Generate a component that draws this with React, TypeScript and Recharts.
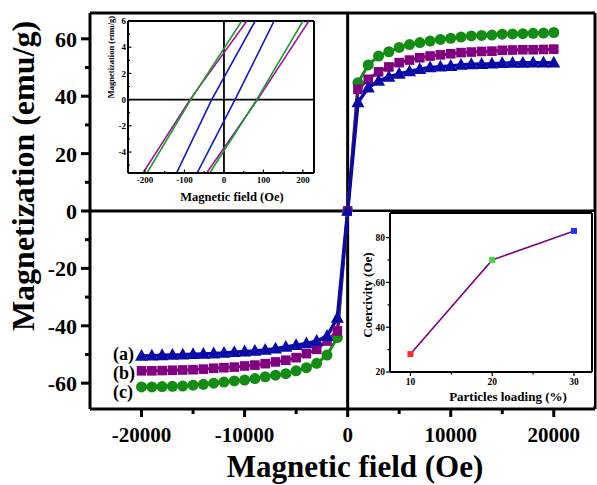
import React from 'react';
import { LineChart, Line, XAxis, YAxis, ReferenceLine } from 'recharts';

const FONT = "'Liberation Serif', 'Times New Roman', serif";
const GREEN = '#138c13';
const PURPLE = '#800080';
const BLUE = '#0a0aa8';

// main M-H curves, field in Oe
const fieldOe = [
  -20000, -19000, -18000, -17000, -16000, -15000, -14000, -13000, -12000, -11000,
  -10000, -9000, -8000, -7000, -6000, -5000, -4000, -3000, -2000, -1000,
  0,
  1000, 2000, 3000, 4000, 5000, 6000, 7000, 8000, 9000, 10000,
  11000, 12000, 13000, 14000, 15000, 16000, 17000, 18000, 19000, 20000,
];
// (c) green circles
const magC = [
  -61.3, -61.3, -61.2, -61.1, -61.0, -60.7, -60.4, -60.0, -59.6, -59.2,
  -58.9, -58.4, -57.8, -57.2, -56.7, -55.7, -54.6, -53.1, -50.2, -44.1,
  0,
  44.7, 50.9, 54.0, 55.5, 57.0, 58.0, 58.7, 59.2, 59.8, 60.2,
  60.6, 61.0, 61.2, 61.3, 61.6, 61.7, 61.8, 61.9, 62.0, 62.2,
];
// (b) purple squares
const magB = [
  -55.7, -55.7, -55.6, -55.5, -55.4, -55.3, -55.1, -54.8, -54.6, -54.4,
  -54.0, -53.7, -53.2, -52.6, -52.0, -51.1, -49.7, -48.2, -45.3, -41.8,
  0,
  42.4, 45.9, 48.5, 50.2, 51.7, 52.6, 53.4, 54.0, 54.4, 54.8,
  55.2, 55.4, 55.6, 55.7, 56.0, 56.1, 56.2, 56.2, 56.3, 56.4,
];
// (a) blue triangles
const magA = [
  -50.5, -50.4, -50.3, -50.2, -50.1, -49.9, -49.8, -49.7, -49.5, -49.2,
  -49.0, -48.8, -48.4, -48.0, -47.4, -46.8, -46.2, -45.3, -43.6, -37.3,
  0,
  37.8, 43.0, 45.3, 46.7, 47.8, 48.6, 49.4, 50.0, 50.3, 50.5,
  50.9, 51.1, 51.2, 51.3, 51.5, 51.6, 51.6, 51.7, 51.7, 51.7,
];
const mainXTicks = [-20000, -15000, -10000, -5000, 0, 5000, 10000, 15000, 20000];
const mainYTicks = [-60, -50, -40, -30, -20, -10, 0, 10, 20, 30, 40, 50, 60];

// zoomed loop inset: each branch read at bottom edge, M=0 crossing, top edge
const loopM = [-5.6, 0, 6];
const greenDownH = [-195, -84, 45];
const greenUpH = [-36, 83, 200];
const purpleDownH = [-205, -86, 58];
const purpleUpH = [-44, 85, 215];
const blueDownH = [-120, -31, 79];
const blueUpH = [-68, 28, 127];
const loopXTicks = [-200, -150, -100, -50, 0, 50, 100, 150, 200];
const loopYTicks = [-5, -4, -3, -2, -1, 0, 1, 2, 3, 4, 5, 6];

// coercivity inset
const loading = [10, 20, 30];
const coercivity = [28, 70, 83];
const loadingColors = ['#ff2a2a', '#3ddc3d', '#2233ff'];
const coerXTicks = [10, 15, 20, 25, 30];
const coerYTicks = [20, 30, 40, 50, 60, 70, 80];

const mainRows = fieldOe.map((h, i) => ({ h, a: magA[i], b: magB[i], c: magC[i] }));
const branch = (hs: number[]) => hs.map((h, i) => ({ h, m: loopM[i] }));
const coerRows = loading.map((x, i) => ({ x, y: coercivity[i], color: loadingColors[i] }));

const Circle = (p: any) => <circle key={p.index} cx={p.cx} cy={p.cy} r={5.5} fill={GREEN} />;
const Square = (p: any) => (
  <rect key={p.index} x={p.cx - 4.8} y={p.cy - 4.8} width={9.6} height={9.6} fill={PURPLE} />
);
const Triangle = (p: any) => (
  <polygon
    key={p.index}
    points={`${p.cx},${p.cy - 7} ${p.cx + 6.5},${p.cy + 4.8} ${p.cx - 6.5},${p.cy + 4.8}`}
    fill={BLUE}
  />
);
const SmallSquare = (p: any) => (
  <rect key={p.index} x={p.cx - 3} y={p.cy - 3} width={6} height={6} fill={p.payload.color} />
);

const MainXTick = ({ x, y, payload }: any) => {
  const major = payload.value % 10000 === 0;
  return (
    <g>
      <line x1={x} x2={x} y1={y} y2={y + (major ? 8 : 5)} stroke="#000" strokeWidth={3} />
      {major && (
        <text x={x} y={y + 33} textAnchor="middle" fontFamily={FONT} fontWeight="bold" fontSize={21} fill="#000">
          {payload.value}
        </text>
      )}
    </g>
  );
};

const MainYTick = ({ x, y, payload }: any) => {
  const major = payload.value % 20 === 0;
  return (
    <g>
      <line x1={x} x2={x - (major ? 9 : 5)} y1={y} y2={y} stroke="#000" strokeWidth={3} />
      {major && (
        <text x={x - 13} y={y} dy="0.36em" textAnchor="end" fontFamily={FONT} fontWeight="bold" fontSize={22} fill="#000">
          {payload.value}
        </text>
      )}
    </g>
  );
};

const LoopXTick = ({ x, y, payload }: any) => {
  const major = payload.value % 100 === 0;
  return (
    <g>
      <line x1={x} x2={x} y1={y} y2={y - (major ? 3.5 : 2)} stroke="#000" strokeWidth={1.2} />
      {major && (
        <text x={x} y={y + 10} textAnchor="middle" fontFamily={FONT} fontWeight="bold" fontSize={9} fill="#000">
          {payload.value}
        </text>
      )}
    </g>
  );
};

const LoopYTick = ({ x, y, payload }: any) => {
  const major = payload.value % 2 === 0;
  return (
    <g>
      <line x1={x} x2={x + (major ? 3.5 : 2)} y1={y} y2={y} stroke="#000" strokeWidth={1.2} />
      {major && (
        <text x={x - 2} y={y} dy="0.35em" textAnchor="end" fontFamily={FONT} fontWeight="bold" fontSize={9} fill="#000">
          {payload.value}
        </text>
      )}
    </g>
  );
};

const CoerXTick = ({ x, y, payload }: any) => {
  const major = payload.value % 10 === 0;
  return (
    <g>
      <line x1={x} x2={x} y1={y} y2={y + (major ? 4 : 2.5)} stroke="#000" strokeWidth={1.2} />
      {major && (
        <text x={x} y={y + 13} textAnchor="middle" fontFamily={FONT} fontWeight="bold" fontSize={9.5} fill="#000">
          {payload.value}
        </text>
      )}
    </g>
  );
};

const CoerYTick = ({ x, y, payload }: any) => {
  const major = payload.value % 20 === 0;
  return (
    <g>
      <line x1={x} x2={x - (major ? 4 : 2.5)} y1={y} y2={y} stroke="#000" strokeWidth={1.2} />
      {major && (
        <text x={x - 5} y={y} dy="0.35em" textAnchor="end" fontFamily={FONT} fontWeight="bold" fontSize={9.5} fill="#000">
          {payload.value}
        </text>
      )}
    </g>
  );
};

const txt = (extra: React.CSSProperties): React.CSSProperties => ({
  position: 'absolute',
  fontFamily: FONT,
  fontWeight: 'bold',
  color: '#000',
  whiteSpace: 'nowrap',
  lineHeight: 1,
  ...extra,
});

const App = () => {
  return (
    <div style={{ position: 'absolute', left: 0, top: 0, width: 597, height: 485, background: '#fff', overflow: 'hidden' }}>
      <div style={{ position: 'absolute', left: 0, top: 0 }}>
        <LineChart width={597} height={485} data={mainRows} margin={{ top: 13, right: 1, bottom: 75, left: 89 }}>
          <XAxis
            dataKey="h"
            type="number"
            domain={[-25000, 24000]}
            ticks={mainXTicks}
            interval={0}
            height={1}
            tickSize={0}
            tickMargin={0}
            tickLine={false}
            tick={<MainXTick />}
            axisLine={{ stroke: '#000', strokeWidth: 3 }}
            allowDataOverflow
          />
          <YAxis
            type="number"
            domain={[-69, 69]}
            ticks={mainYTicks}
            interval={0}
            width={1}
            tickSize={0}
            tickMargin={0}
            tickLine={false}
            tick={<MainYTick />}
            axisLine={{ stroke: '#000', strokeWidth: 3 }}
            allowDataOverflow
          />
          <YAxis
            yAxisId="frame"
            orientation="right"
            type="number"
            domain={[-69, 69]}
            width={1}
            tick={false}
            tickLine={false}
            axisLine={{ stroke: '#000', strokeWidth: 3 }}
          />
          <ReferenceLine y={69} stroke="#000" strokeWidth={3} ifOverflow="visible" />
          <ReferenceLine y={0} stroke="#000" strokeWidth={3} />
          <ReferenceLine x={0} stroke="#000" strokeWidth={3} />
          <Line dataKey="c" stroke={GREEN} strokeWidth={3} dot={Circle} activeDot={false} isAnimationActive={false} />
          <Line dataKey="b" stroke={PURPLE} strokeWidth={3} dot={Square} activeDot={false} isAnimationActive={false} />
          <Line dataKey="a" stroke={BLUE} strokeWidth={3.5} dot={Triangle} activeDot={false} isAnimationActive={false} />
        </LineChart>
      </div>

      <div style={txt({ left: 113, top: 345, fontSize: 18 })}>(a)</div>
      <div style={txt({ left: 113, top: 364, fontSize: 18 })}>(b)</div>
      <div style={txt({ left: 113, top: 383, fontSize: 18 })}>(c)</div>

      <div style={txt({ left: 23, top: 176, fontSize: 32, transform: 'translate(-50%, -50%) rotate(-90deg)' })}>
        Magnetization (emu/g)
      </div>
      <div style={txt({ left: 355, top: 466, fontSize: 31, transform: 'translate(-50%, -50%)' })}>
        Magnetic field (Oe)
      </div>

      {/* low-field loop inset */}
      <div style={{ position: 'absolute', left: 100, top: 16, width: 220, height: 190, background: '#fff' }}>
        <LineChart width={220} height={190} margin={{ top: 5, right: 6, bottom: 32, left: 27 }}>
          <XAxis
            dataKey="h"
            type="number"
            domain={[-243, 228]}
            ticks={loopXTicks}
            interval={0}
            height={1}
            tickSize={0}
            tickMargin={0}
            tickLine={false}
            tick={<LoopXTick />}
            axisLine={{ stroke: '#000', strokeWidth: 2 }}
            allowDataOverflow
          />
          <YAxis
            type="number"
            domain={[-5.6, 6]}
            ticks={loopYTicks}
            interval={0}
            width={1}
            tickSize={0}
            tickMargin={0}
            tickLine={false}
            tick={<LoopYTick />}
            axisLine={{ stroke: '#000', strokeWidth: 2 }}
            allowDataOverflow
          />
          <ReferenceLine y={6} stroke="#000" strokeWidth={2} ifOverflow="visible" />
          <ReferenceLine x={228} stroke="#000" strokeWidth={2} ifOverflow="visible" />
          <ReferenceLine y={0} stroke="#000" strokeWidth={1.8} />
          <ReferenceLine x={0} stroke="#000" strokeWidth={1.8} />
          <Line data={branch(purpleDownH)} dataKey="m" stroke="#a0159a" strokeWidth={1.6} dot={false} activeDot={false} isAnimationActive={false} />
          <Line data={branch(purpleUpH)} dataKey="m" stroke="#a0159a" strokeWidth={1.6} dot={false} activeDot={false} isAnimationActive={false} />
          <Line data={branch(greenDownH)} dataKey="m" stroke="#1c9a2a" strokeWidth={1.6} dot={false} activeDot={false} isAnimationActive={false} />
          <Line data={branch(greenUpH)} dataKey="m" stroke="#1c9a2a" strokeWidth={1.6} dot={false} activeDot={false} isAnimationActive={false} />
          <Line data={branch(blueDownH)} dataKey="m" stroke="#1515c8" strokeWidth={1.6} dot={false} activeDot={false} isAnimationActive={false} />
          <Line data={branch(blueUpH)} dataKey="m" stroke="#1515c8" strokeWidth={1.6} dot={false} activeDot={false} isAnimationActive={false} />
        </LineChart>
      </div>
      <div style={txt({ left: 111, top: 57, fontSize: 8.5, transform: 'translate(-50%, -50%) rotate(-90deg)' })}>
        Magnetization (emu/g)
      </div>
      <div style={txt({ left: 232, top: 197, fontSize: 12.5, transform: 'translate(-50%, -50%)' })}>
        Magnetic field (Oe)
      </div>

      {/* coercivity inset */}
      <div style={{ position: 'absolute', left: 352, top: 212, width: 242, height: 194, background: '#fff' }}>
        <LineChart width={242} height={194} data={coerRows} margin={{ top: 1, right: 1, bottom: 33, left: 37 }}>
          <XAxis
            dataKey="x"
            type="number"
            domain={[7.5, 32.2]}
            ticks={coerXTicks}
            interval={0}
            height={1}
            tickSize={0}
            tickMargin={0}
            tickLine={false}
            tick={<CoerXTick />}
            axisLine={{ stroke: '#000', strokeWidth: 2 }}
            allowDataOverflow
          />
          <YAxis
            type="number"
            domain={[20, 91]}
            ticks={coerYTicks}
            interval={0}
            width={1}
            tickSize={0}
            tickMargin={0}
            tickLine={false}
            tick={<CoerYTick />}
            axisLine={{ stroke: '#000', strokeWidth: 2 }}
            allowDataOverflow
          />
          <YAxis
            yAxisId="frame"
            orientation="right"
            type="number"
            domain={[20, 91]}
            width={1}
            tick={false}
            tickLine={false}
            axisLine={{ stroke: '#000', strokeWidth: 2 }}
          />
          <ReferenceLine y={91} stroke="#000" strokeWidth={2} ifOverflow="visible" />
          <Line dataKey="y" stroke={PURPLE} strokeWidth={1.6} dot={SmallSquare} activeDot={false} isAnimationActive={false} />
        </LineChart>
      </div>
      <div style={txt({ left: 367, top: 295, fontSize: 13, transform: 'translate(-50%, -50%) rotate(-90deg)' })}>
        Coercivity (Oe)
      </div>
      <div style={txt({ left: 508, top: 396, fontSize: 13, transform: 'translate(-50%, -50%)' })}>
        Particles loading (%)
      </div>
    </div>
  );
};

export default App;
